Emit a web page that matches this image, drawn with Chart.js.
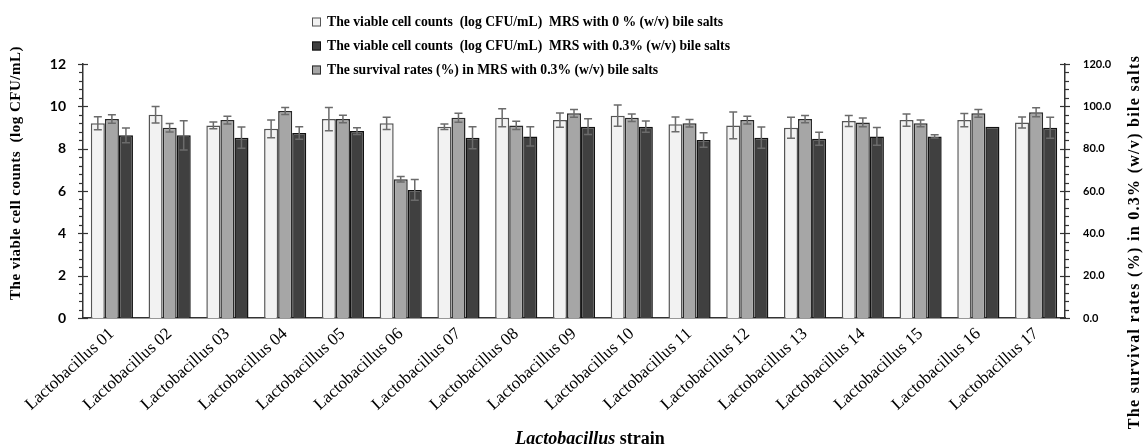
<!DOCTYPE html>
<html>
<head>
<meta charset="utf-8">
<script src="https://cdn.jsdelivr.net/npm/chart.js@4/dist/chart.umd.min.js"></script>
<style>
  html, body { margin: 0; padding: 0; background: #fff; }
  canvas { display: block; }
</style>
</head>
<body>
<canvas id="chart" width="1148" height="448"></canvas>
<script>
// Strains on the x axis
const strains = [
  'Lactobacillus 01', 'Lactobacillus 02', 'Lactobacillus 03', 'Lactobacillus 04',
  'Lactobacillus 05', 'Lactobacillus 06', 'Lactobacillus 07', 'Lactobacillus 08',
  'Lactobacillus 09', 'Lactobacillus 10', 'Lactobacillus 11', 'Lactobacillus 12',
  'Lactobacillus 13', 'Lactobacillus 14', 'Lactobacillus 15', 'Lactobacillus 16',
  'Lactobacillus 17'
];

// Viable counts (log CFU/mL) in MRS without bile salts, with SD
const count0 = [9.20, 9.60, 9.10, 8.94, 9.40, 9.20, 9.04, 9.46, 9.35, 9.56, 9.15, 9.10, 8.99, 9.31, 9.35, 9.35, 9.24];
const count0Sd = [0.31, 0.39, 0.16, 0.42, 0.55, 0.29, 0.13, 0.42, 0.34, 0.50, 0.35, 0.63, 0.50, 0.26, 0.29, 0.31, 0.26];

// Survival rates (%) in MRS with 0.3% bile salts, with SD (right axis)
const survival = [94.0, 89.9, 93.5, 97.8, 94.0, 65.5, 94.6, 91.0, 96.7, 94.6, 92.0, 93.5, 94.0, 92.4, 92.0, 96.7, 97.2];
const survivalSd = [2.0, 2.0, 1.8, 1.7, 1.8, 1.3, 2.1, 1.9, 1.8, 1.8, 1.8, 1.8, 1.7, 2.1, 1.6, 1.8, 2.1];

// Viable counts (log CFU/mL) in MRS with 0.3% bile salts, with SD
const count03 = [8.63, 8.63, 8.52, 8.74, 8.83, 6.05, 8.52, 8.58, 9.04, 9.04, 8.41, 8.52, 8.47, 8.58, 8.58, 9.04, 8.99];
const count03Sd = [0.35, 0.69, 0.50, 0.29, 0.16, 0.49, 0.52, 0.45, 0.37, 0.27, 0.34, 0.50, 0.31, 0.42, 0.08, 0.00, 0.50];

// Axis tick values
const leftTicks = [0, 2, 4, 6, 8, 10, 12];
const rightTicks = [0, 20, 40, 60, 80, 100, 120];

const SERIF = "'Liberation Serif', 'Times New Roman', serif";
const SANS = "Lato, 'Open Sans', sans-serif";

const errorSets = [count0Sd, survivalSd, count03Sd];
const legendOrder = [0, 2, 1];

// Error bars (mean ± SD) drawn over every bar
const errorBars = {
  id: 'errorBars',
  afterDatasetsDraw(chart) {
    const ctx = chart.ctx;
    ctx.save();
    ctx.strokeStyle = '#6b6b6b';
    ctx.lineWidth = 1.5;
    chart.data.datasets.forEach((ds, di) => {
      const meta = chart.getDatasetMeta(di);
      const scale = chart.scales[meta.yAxisID];
      const sd = errorSets[di];
      meta.data.forEach((bar, i) => {
        const e = sd[i];
        if (!e) return;
        const v = ds.data[i];
        const yTop = scale.getPixelForValue(v + e);
        const yBot = scale.getPixelForValue(v - e);
        const x = bar.x;
        const cap = 4;
        ctx.beginPath();
        ctx.moveTo(x, yTop); ctx.lineTo(x, yBot);
        ctx.moveTo(x - cap, yTop); ctx.lineTo(x + cap, yTop);
        ctx.moveTo(x - cap, yBot); ctx.lineTo(x + cap, yBot);
        ctx.stroke();
      });
    });
    ctx.restore();
  }
};

// Major (crossing) and minor (outside) tick marks on both value axes
const axisTicks = {
  id: 'axisTicks',
  afterDraw(chart) {
    const ctx = chart.ctx;
    ctx.save();
    ctx.strokeStyle = '#333';
    ctx.lineWidth = 1.2;
    [['y', -1, 0.4, 2], ['y1', 1, 4, 20]].forEach(([id, dir, minor, major]) => {
      const s = chart.scales[id];
      const x0 = dir < 0 ? s.right : s.left;
      const n = Math.round((s.max - s.min) / minor);
      for (let i = 0; i <= n; i++) {
        const v = s.min + i * minor;
        const y = Math.round(s.getPixelForValue(v)) + 0.5;
        const isMajor = Math.abs(v / major - Math.round(v / major)) < 1e-6;
        ctx.beginPath();
        if (isMajor) { ctx.moveTo(x0 - 5, y); ctx.lineTo(x0 + 5, y); }
        else { ctx.moveTo(x0, y); ctx.lineTo(x0 + dir * 4, y); }
        ctx.stroke();
      }
    });
    ctx.restore();
  }
};

// Axis titles and the stacked legend
const titlesAndLegend = {
  id: 'titlesAndLegend',
  afterDraw(chart) {
    const ctx = chart.ctx;
    ctx.save();
    ctx.fillStyle = '#000';
    ctx.textBaseline = 'middle';
    ctx.textAlign = 'center';

    // left axis title
    ctx.save();
    ctx.translate(16, 173);
    ctx.rotate(-Math.PI / 2);
    ctx.font = `bold 15px ${SERIF}`;
    ctx.letterSpacing = '0.5px';
    ctx.fillText('The viable cell counts  (log CFU/mL)', 0, 0);
    ctx.restore();

    // right axis title
    ctx.save();
    ctx.translate(1135, 242);
    ctx.rotate(-Math.PI / 2);
    ctx.font = `bold 16px ${SERIF}`;
    ctx.letterSpacing = '1.3px';
    ctx.fillText('The survival rates (%) in 0.3% (w/v) bile salts', 0, 0);
    ctx.restore();

    // x axis title: italic genus name followed by "strain"
    ctx.font = `italic bold 18px ${SERIF}`;
    const w1 = ctx.measureText('Lactobacillus').width;
    ctx.font = `bold 18px ${SERIF}`;
    const w2 = ctx.measureText(' strain').width;
    const x = 590 - (w1 + w2) / 2;
    ctx.textAlign = 'left';
    ctx.font = `italic bold 18px ${SERIF}`;
    ctx.fillText('Lactobacillus', x, 439);
    ctx.font = `bold 18px ${SERIF}`;
    ctx.fillText(' strain', x + w1, 439);

    // legend
    const rowsY = [22, 46, 70];
    ctx.font = `bold 13.7px ${SERIF}`;
    legendOrder.forEach((di, r) => {
      const ds = chart.data.datasets[di];
      const y = rowsY[r];
      ctx.fillStyle = ds.backgroundColor;
      ctx.fillRect(312, y - 4.5, 9, 9);
      ctx.strokeStyle = ds.borderColor;
      ctx.lineWidth = 1;
      ctx.strokeRect(312.5, y - 4, 8, 8);
      ctx.fillStyle = '#000';
      ctx.fillText(ds.label, 327, y);
    });
    ctx.restore();
  }
};

new Chart(document.getElementById('chart'), {
  type: 'bar',
  data: {
    labels: strains,
    datasets: [
      {
        label: 'The viable cell counts  (log CFU/mL)  MRS with 0 % (w/v) bile salts',
        data: count0,
        yAxisID: 'y',
        backgroundColor: '#f2f2f2',
        borderColor: '#555555',
        borderWidth: 1.5
      },
      {
        label: 'The survival rates (%) in MRS with 0.3% (w/v) bile salts',
        data: survival,
        yAxisID: 'y1',
        backgroundColor: '#a6a6a6',
        borderColor: '#2a2a2a',
        borderWidth: 1.5
      },
      {
        label: 'The viable cell counts  (log CFU/mL)  MRS with 0.3% (w/v) bile salts',
        data: count03,
        yAxisID: 'y',
        backgroundColor: '#404040',
        borderColor: '#111111',
        borderWidth: 1.5
      }
    ]
  },
  options: {
    responsive: false,
    animation: false,
    devicePixelRatio: 1,
    layout: { padding: { top: 64, left: 0, right: 0, bottom: 0 } },
    datasets: { bar: { categoryPercentage: 0.73, barPercentage: 1.0 } },
    plugins: {
      legend: { display: false },
      tooltip: { enabled: false }
    },
    scales: {
      x: {
        grid: { display: false, drawTicks: false },
        border: { display: true, color: '#333', width: 1.5 },
        ticks: {
          autoSkip: false,
          minRotation: 42,
          maxRotation: 42,
          padding: 6,
          color: '#000',
          font: { family: SERIF, size: 17 }
        },
        afterFit(scale) {
          scale.height = 130;
          scale.paddingLeft = 0;
          scale.paddingRight = 0;
        }
      },
      y: {
        position: 'left',
        min: 0,
        max: 12,
        grid: { display: false, drawTicks: false },
        border: { display: true, color: '#333', width: 1.5 },
        afterBuildTicks(scale) { scale.ticks = leftTicks.map(v => ({ value: v })); },
        ticks: {
          padding: 17,
          color: '#000',
          font: { family: SANS, size: 14, weight: 'bold' },
          callback: v => String(v)
        },
        afterFit(scale) { scale.width = 83; }
      },
      y1: {
        position: 'right',
        min: 0,
        max: 120,
        grid: { display: false, drawTicks: false },
        border: { display: true, color: '#333', width: 1.5 },
        afterBuildTicks(scale) { scale.ticks = rightTicks.map(v => ({ value: v })); },
        ticks: {
          padding: 18,
          color: '#000',
          font: { family: SANS, size: 11, weight: 'bold' },
          callback: v => Number(v).toFixed(1)
        },
        afterFit(scale) { scale.width = 83; }
      }
    }
  },
  plugins: [errorBars, axisTicks, titlesAndLegend]
});
</script>
</body>
</html>
